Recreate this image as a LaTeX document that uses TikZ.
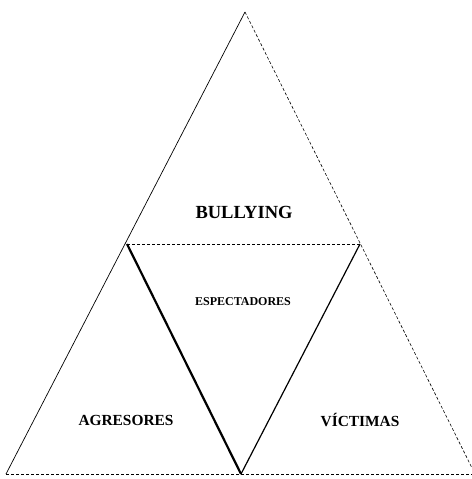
\documentclass[tikz,border=0pt]{standalone}
\usepackage{fontspec}
\setmainfont{Liberation Serif}

\begin{document}
\begin{tikzpicture}[x=1pt,y=-1pt,line width=0.8pt,
  side/.style={line width=0.7pt},
  faint/.style={line width=0.6pt,densely dashed},
  heavy/.style={line width=2.2pt},
  lbl/.style={inner sep=1pt,font=\bfseries}]
\useasboundingbox (0,0) rectangle (471,479);
% ---------- corners ----------
\coordinate (apex) at (245,12);
\coordinate (bl) at (6,474);
\coordinate (br) at (475,474);
\coordinate (ml) at (127,244);
\coordinate (mr) at (360,244);
\coordinate (mb) at (241,474);
% ---------- outer triangle ----------
\draw[side] (bl) -- (apex);
\draw[faint] (apex) -- (br);
\draw[faint] (bl) -- (br);
% ---------- inner triangle ----------
\draw[faint] (ml) -- (mr);
\draw[heavy] (ml) -- (mb);
\draw[line width=1.2pt] (mr) -- (mb);
% ---------- labels ----------
\node[lbl,font=\fontsize{18.5}{20}\selectfont\bfseries] (bullying) at (244,212) {BULLYING};
\node[lbl,font=\fontsize{12}{14}\selectfont\bfseries] (espect) at (243,302) {ESPECTADORES};
\node[lbl,font=\fontsize{15.4}{17}\selectfont\bfseries] (agres) at (126,420) {AGRESORES};
\node[lbl,font=\fontsize{15.4}{17}\selectfont\bfseries] (vict) at (360,420) {VÍCTIMAS};
\end{tikzpicture}
\end{document}
